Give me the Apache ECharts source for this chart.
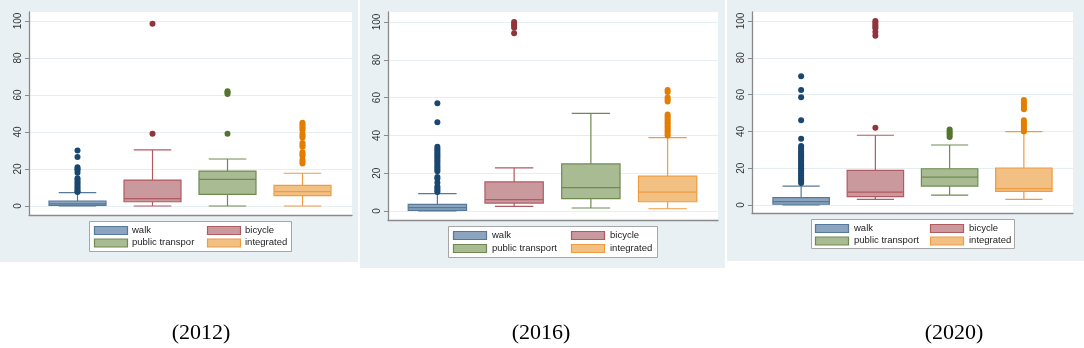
<!DOCTYPE html>
<html>
<head>
<meta charset="utf-8">
<script src="https://cdn.jsdelivr.net/npm/echarts@6/dist/echarts.min.js"></script>
<style>
  html, body { margin: 0; padding: 0; background: #ffffff; }
  #chart { width: 1084px; height: 348px; }
</style>
</head>
<body>
<div id="chart"></div>
<script>
// ---------------- DATA ----------------
const captions = ['(2012)', '(2016)', '(2020)'];
const modes = ['walk', 'bicycle', 'public transport', 'integrated'];
const legend2012 = ['walk', 'bicycle', 'public transpor', 'integrated'];
const legend2016 = ['walk', 'bicycle', 'public transport', 'integrated'];
const legend2020 = ['walk', 'bicycle', 'public transport', 'integrated'];
const yTicks = [0, 20, 40, 60, 80, 100];

// box statistics per mode: [lower whisker, Q1, median, Q3, upper whisker]
const box2012 = [
  [0, 0.3, 1.2, 2.7, 7.2],
  [0, 2.3, 4.0, 14.0, 30.3],
  [0, 6.3, 14.4, 18.9, 25.4],
  [0, 5.6, 7.8, 11.2, 17.7]
];
const box2016 = [
  [0, 0.3, 1.8, 3.5, 9.2],
  [2.5, 4.2, 6.0, 15.4, 22.8],
  [1.6, 6.5, 12.4, 24.9, 51.7],
  [1.2, 4.9, 10.0, 18.4, 38.8]
];
const box2020 = [
  [0, 0.4, 1.8, 4.0, 10.3],
  [3.1, 4.5, 7.0, 18.8, 37.9],
  [5.4, 10.3, 15.2, 19.7, 32.6],
  [3.1, 7.4, 8.9, 20.1, 39.9]
];

// outliers per mode
const out2012Walk = [30, 26.5, 21, 20, 19.5, 18, 15, 14, 13, 12, 11, 10, 9, 8, 7.6];
const out2012Bicycle = [39, 98.5];
const out2012Public = [39, 60.5, 61.3, 62];
const out2012Integrated = [45, 44, 43, 42, 41, 39, 38, 37, 34, 33, 32, 29, 28, 27, 25, 24, 23];

const out2016Walk = [57, 47, 34, 33, 32, 31, 30, 29, 28, 27, 26, 25, 24, 23, 22, 21, 18, 17, 15, 13, 12, 11, 10];
const out2016Bicycle = [94, 97, 98, 99, 100];
const out2016Public = [];
const out2016Integrated = [64, 63, 60, 59, 58, 51, 50, 49, 48, 47, 46, 45, 44, 43, 42, 41, 40];

const out2020Walk = [70, 62.5, 58.5, 46, 36, 32, 31, 30, 29, 28, 27, 26, 25, 24, 23, 22, 21, 20, 19, 18, 17, 16, 15, 14, 13, 12];
const out2020Bicycle = [42, 92, 94, 96, 97, 98, 99, 100];
const out2020Public = [37, 38, 39, 40, 41];
const out2020Integrated = [52, 53, 54, 55, 56, 57, 40, 41, 42, 43, 44, 45, 46];

// ---------------- STYLE / LAYOUT ----------------
const fillColors = ['#8da4be', '#c9999d', '#a9bb93', '#f3c083'];
const strokeColors = ['#56799b', '#b25a62', '#6f8a50', '#ee9c42'];
const dotColors = ['#1a476f', '#90353b', '#55752f', '#e37e00'];
const panelBg = '#e9f0f3';
const font = '"Liberation Sans", Arial, sans-serif';

const layout = [
  { bg: [0, 0, 358, 262], plot: [29, 12, 352, 215], yTop: 21, yBot: 206, band: [40, 340],
    legend: [89, 221, 291, 251], keyX: [94, 207], textX: [132, 245], rowY: [230, 242.5], cap: [201, 333] },
  { bg: [360, 0, 725, 268], plot: [388, 12, 718, 220], yTop: 22, yBot: 211, band: [399, 706],
    legend: [448, 226, 657, 257], keyX: [453, 571], textX: [492, 610], rowY: [235, 248], cap: [541, 333] },
  { bg: [727, 0, 1084, 261], plot: [752, 12, 1073, 213], yTop: 21, yBot: 205, band: [764, 1061],
    legend: [811, 219, 1014, 248], keyX: [815, 930], textX: [854, 969], rowY: [228, 240.5], cap: [954, 333] }
];

const boxes = [box2012, box2016, box2020];
const outliers = [
  [out2012Walk, out2012Bicycle, out2012Public, out2012Integrated],
  [out2016Walk, out2016Bicycle, out2016Public, out2016Integrated],
  [out2020Walk, out2020Bicycle, out2020Public, out2020Integrated]
];
const legends = [legend2012, legend2016, legend2020];

function renderBox(params, api) {
  const cat = api.value(0);
  const pMin = api.coord([cat, api.value(1)]);
  const pQ1 = api.coord([cat, api.value(2)]);
  const pMed = api.coord([cat, api.value(3)]);
  const pQ3 = api.coord([cat, api.value(4)]);
  const pMax = api.coord([cat, api.value(5)]);
  const band = api.size([1, 0])[0];
  const bw = band * 0.76;
  const cw = band * 0.5;
  const x = pMed[0];
  const idx = Math.round(cat);
  const stroke = strokeColors[idx];
  const fill = fillColors[idx];
  const ls = { stroke: stroke, lineWidth: 1.2 };
  return {
    type: 'group',
    children: [
      { type: 'line', shape: { x1: x, y1: pQ3[1], x2: x, y2: pMax[1] }, style: ls },
      { type: 'line', shape: { x1: x, y1: pMin[1], x2: x, y2: pQ1[1] }, style: ls },
      { type: 'line', shape: { x1: x - cw / 2, y1: pMax[1], x2: x + cw / 2, y2: pMax[1] }, style: ls },
      { type: 'line', shape: { x1: x - cw / 2, y1: pMin[1], x2: x + cw / 2, y2: pMin[1] }, style: ls },
      { type: 'rect', shape: { x: x - bw / 2, y: pQ3[1], width: bw, height: pQ1[1] - pQ3[1] },
        style: { fill: fill, stroke: stroke, lineWidth: 1.2 } },
      { type: 'line', shape: { x1: x - bw / 2, y1: pMed[1], x2: x + bw / 2, y2: pMed[1] }, style: ls }
    ]
  };
}

const grids = [], xAxes = [], yAxes = [], series = [], graphics = [];

layout.forEach((L, p) => {
  graphics.push({ type: 'rect', z: -20, silent: true,
    shape: { x: L.bg[0], y: L.bg[1], width: L.bg[2] - L.bg[0], height: L.bg[3] - L.bg[1] },
    style: { fill: panelBg } });
  graphics.push({ type: 'rect', z: -19, silent: true,
    shape: { x: L.plot[0], y: L.plot[1], width: L.plot[2] - L.plot[0], height: L.plot[3] - L.plot[1] },
    style: { fill: '#ffffff' } });

  const gA = grids.length;
  grids.push({ left: L.plot[0], width: L.plot[2] - L.plot[0], top: L.yTop, height: L.yBot - L.yTop });
  xAxes.push({ gridIndex: gA, type: 'value', show: false, min: 0, max: 1 });
  yAxes.push({ gridIndex: gA, type: 'value', min: yTicks[0], max: yTicks[yTicks.length - 1], interval: 20,
    axisLine: { show: false },
    axisTick: { show: true, length: 4, lineStyle: { color: '#8a8a8a', width: 1 } },
    axisLabel: { rotate: 90, margin: 6, fontSize: 10, color: '#333', fontFamily: font },
    splitLine: { show: true, lineStyle: { color: '#e6eef2', width: 1 } } });

  const gB = grids.length;
  grids.push({ left: L.plot[0], width: L.plot[2] - L.plot[0], top: L.plot[1], height: L.plot[3] - L.plot[1] });
  xAxes.push({ gridIndex: gB, type: 'value', min: 0, max: 1, position: 'bottom',
    axisLine: { show: true, onZero: false, lineStyle: { color: '#8a8a8a', width: 1.3 } },
    axisTick: { show: false }, axisLabel: { show: false }, splitLine: { show: false } });
  yAxes.push({ gridIndex: gB, type: 'value', min: 0, max: 1, position: 'left',
    axisLine: { show: true, onZero: false, lineStyle: { color: '#8a8a8a', width: 1.3 } },
    axisTick: { show: false }, axisLabel: { show: false }, splitLine: { show: false } });

  const gC = grids.length;
  grids.push({ left: L.band[0], width: L.band[1] - L.band[0], top: L.yTop, height: L.yBot - L.yTop });
  const xC = xAxes.length;
  xAxes.push({ gridIndex: gC, type: 'category', data: modes, boundaryGap: true, show: false });
  const yC = yAxes.length;
  yAxes.push({ gridIndex: gC, type: 'value', min: 0, max: 100, show: false });

  boxes[p].forEach((b, i) => {
    series.push({
      type: 'custom', name: modes[i], xAxisIndex: xC, yAxisIndex: yC,
      renderItem: renderBox,
      encode: { x: 0, y: [1, 2, 3, 4, 5] },
      data: [[i].concat(b)],
      z: 2
    });
  });
  outliers[p].forEach((arr, i) => {
    series.push({
      type: 'scatter', name: modes[i] + ' outliers', xAxisIndex: xC, yAxisIndex: yC,
      symbol: 'circle', symbolSize: 6,
      itemStyle: { color: dotColors[i], opacity: 1 },
      data: arr.map(v => [i, v]),
      z: 3
    });
  });

  const lg = L.legend;
  graphics.push({ type: 'rect', z: 5, silent: true,
    shape: { x: lg[0] + 0.5, y: lg[1] + 0.5, width: lg[2] - lg[0], height: lg[3] - lg[1] },
    style: { fill: '#ffffff', stroke: '#a6a6a6', lineWidth: 1 } });
  legends[p].forEach((name, i) => {
    const col = i % 2, row = Math.floor(i / 2);
    const kx = L.keyX[col], cy = L.rowY[row];
    graphics.push({ type: 'rect', z: 6, silent: true,
      shape: { x: kx + 0.5, y: cy - 4 + 0.5, width: 33, height: 8 },
      style: { fill: fillColors[i], stroke: strokeColors[i], lineWidth: 1.2 } });
    graphics.push({ type: 'text', z: 6, silent: true, x: L.textX[col], y: cy,
      style: { text: name, fill: '#222', font: '9.5px ' + font, textAlign: 'left', textVerticalAlign: 'middle' } });
  });

  graphics.push({ type: 'text', z: 6, silent: true, x: L.cap[0], y: L.cap[1],
    style: { text: captions[p], fill: '#000', font: '22px "Liberation Serif", "Times New Roman", serif',
      textAlign: 'center', textVerticalAlign: 'middle' } });
});

const chart = echarts.init(document.getElementById('chart'), null, { renderer: 'canvas' });
chart.setOption({
  backgroundColor: '#ffffff',
  animation: false,
  grid: grids,
  xAxis: xAxes,
  yAxis: yAxes,
  series: series,
  graphic: { elements: graphics }
});
</script>
</body>
</html>
